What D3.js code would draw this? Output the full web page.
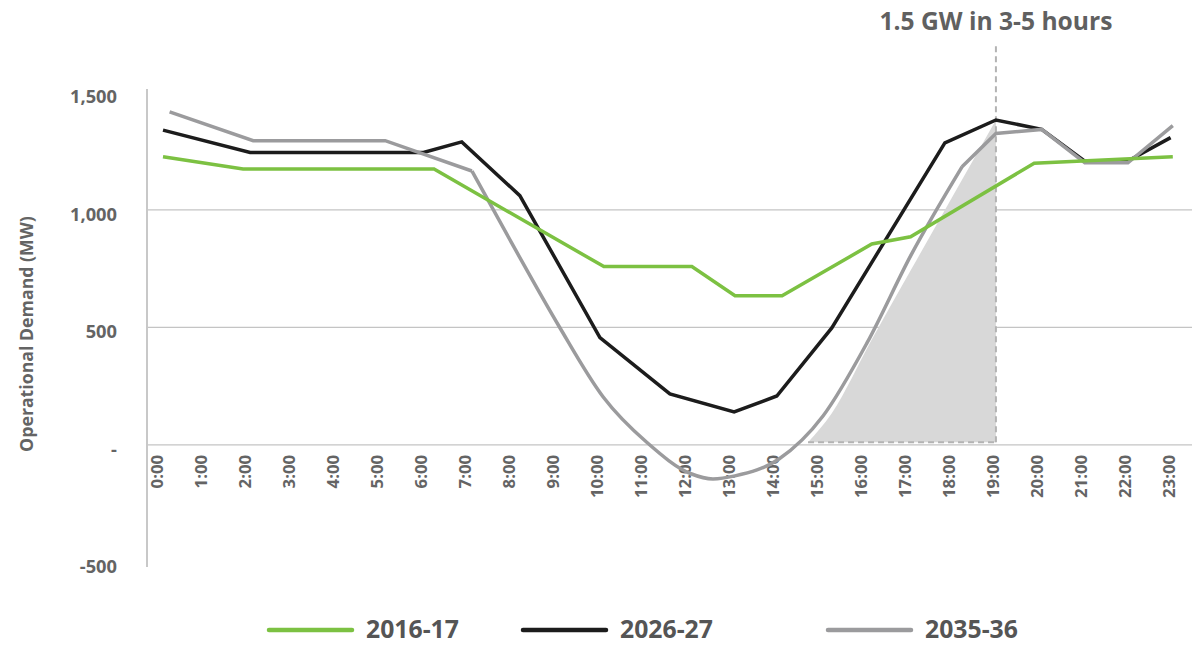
<!DOCTYPE html>
<html>
<head>
<meta charset="utf-8">
<script src="https://cdn.jsdelivr.net/npm/d3@7"></script>
<style>
  html, body { margin: 0; padding: 0; background: #ffffff; }
  svg { display: block; }
  text { font-family: "Open Sans", Lato, sans-serif; font-weight: 700; }
</style>
</head>
<body>
<svg id="chart" width="1200" height="646"></svg>
<script>
// ---- data ----
const hourLabels = ["0:00","1:00","2:00","3:00","4:00","5:00","6:00","7:00","8:00","9:00","10:00","11:00",
                    "12:00","13:00","14:00","15:00","16:00","17:00","18:00","19:00","20:00","21:00","22:00","23:00"];
const yTickValues = [1500, 1000, 500, 0, -500];
const yTickLabels = ["1,500", "1,000", "500", "-", "-500"];
const gridValues = [1000, 500, 0];

const seriesNames = ["2016-17", "2026-27", "2035-36"];

const t2016 = [0, 1.82, 6.16, 10.02, 12.02, 13.0, 14.07, 16.11, 16.99, 19.8, 22.95];
const v2016 = [1227, 1174, 1174, 759, 759, 635, 635, 855, 886, 1199, 1227];

const t2026 = [0, 1.98, 5.92, 6.79, 8.11, 9.93, 11.52, 12.98, 13.95, 15.2, 17.77, 18.93, 19.97, 20.95, 21.93, 22.9];
const v2026 = [1340, 1245, 1245, 1290, 1061, 457, 217, 140, 208, 498, 1286, 1383, 1343, 1208, 1208, 1308];

// 2035-36: straight head, smooth trough (7:00 - 18:00), straight tail
const t2035 = [0.15, 2.05, 5.05, 7.02, 8, 9, 10, 11, 12, 12.5, 13, 14, 15, 16, 17, 18.16, 18.93, 19.97, 20.95, 21.93, 22.95];
const v2035 = [1418, 1295, 1295, 1166, 834, 505, 205, 10, -123, -145, -132, -60, 123, 434, 808, 1184, 1326, 1343, 1201, 1201, 1359];
const smoothFrom = 7.02, smoothTo = 18.16;

// shaded ramp (1.5 GW in 3-5 hours)
const rampT = [14.66, 15.2, 16.1, 17.0, 18.93];
const rampV = [0, 135, 445, 745, 1383];
const annotationHour = 18.93;
const annotationText = "1.5 GW in 3-5 hours";
const yTitle = "Operational Demand (MW)";

// ---- helpers ----
function fitWidth(sel, target) {
  sel.each(function () {
    const fs = parseFloat(this.getAttribute("font-size"));
    const w = this.getComputedTextLength();
    if (w > 0) this.setAttribute("font-size", (fs * target / w).toFixed(2));
  });
}

// ---- scales ----
const svg = d3.select("#chart");
const x = d3.scaleLinear().domain([0, 23]).range([163, 1175]);
const y = d3.scaleLinear().domain([-520, 1515]).range([567, 89]);
const plotLeft = 147, plotRight = 1192;

const colors = { "2016-17": "#7cc142", "2026-27": "#1c1c1c", "2035-36": "#9b9b9d" };
const labelColor = "#646464";

// gridlines
svg.append("g").selectAll("line").data(gridValues).join("line")
  .attr("x1", plotLeft).attr("x2", plotRight)
  .attr("y1", d => y(d)).attr("y2", d => y(d))
  .attr("stroke", "#c4c4c4").attr("stroke-width", 1.3);

// y axis line
svg.append("line")
  .attr("x1", plotLeft).attr("x2", plotLeft)
  .attr("y1", y.range()[1]).attr("y2", y.range()[0])
  .attr("stroke", "#c8c8c8").attr("stroke-width", 2);

// y tick labels
const yLab = svg.append("g").selectAll("text").data(yTickValues).join("text")
  .attr("x", 117).attr("y", d => y(d) + 6)
  .attr("text-anchor", "end").attr("dominant-baseline", "middle")
  .attr("font-size", 18).attr("fill", labelColor)
  .text((d, i) => yTickLabels[i]);
fitWidth(yLab.filter((d, i) => i === 0), 47);
yLab.attr("font-size", yLab.filter((d, i) => i === 0).attr("font-size"));

// y title
const yT = svg.append("text")
  .attr("transform", "translate(33,334) rotate(-90)")
  .attr("text-anchor", "middle")
  .attr("font-size", 16).attr("fill", labelColor)
  .text(yTitle);
fitWidth(yT, 236);

// x tick labels
const xLab = svg.append("g").selectAll("text").data(hourLabels).join("text")
  .attr("transform", (d, i) => `translate(${x(i)},455) rotate(-90)`)
  .attr("text-anchor", "end")
  .attr("font-size", 17.5).attr("fill", labelColor)
  .text(d => d);
fitWidth(xLab.filter((d, i) => i === 10), 43);
xLab.attr("font-size", xLab.filter((d, i) => i === 10).attr("font-size"));

// shaded ramp
const zeroY = y(0) - 2.5;
const rampData = rampT.map((t, i) => ({ t, v: rampV[i] }));
svg.append("path").datum(rampData)
  .attr("d", d3.area().x(d => x(d.t)).y0(zeroY).y1(d => Math.min(y(d.v), zeroY)).curve(d3.curveMonotoneX))
  .attr("fill", "#d8d8d8");

// dashed lines
svg.append("line")
  .attr("x1", x(rampT[0])).attr("x2", x(annotationHour))
  .attr("y1", zeroY).attr("y2", zeroY)
  .attr("stroke", "#b3b3b3").attr("stroke-width", 2).attr("stroke-dasharray", "6,4");
svg.append("line")
  .attr("x1", x(annotationHour)).attr("x2", x(annotationHour))
  .attr("y1", zeroY).attr("y2", 44)
  .attr("stroke", "#b3b3b3").attr("stroke-width", 2).attr("stroke-dasharray", "6,4");

// annotation
const ann = svg.append("text")
  .attr("x", x(annotationHour)).attr("y", 30)
  .attr("text-anchor", "middle")
  .attr("font-size", 24).attr("fill", "#606060")
  .text(annotationText);
fitWidth(ann, 233);

// series lines
function pts(ts, vs) { return ts.map((t, i) => ({ t, v: vs[i] })); }
const g2035 = pts(t2035, v2035);
const series = [
  { name: "2026-27", parts: [{ p: pts(t2026, v2026), c: d3.curveLinear }] },
  { name: "2035-36", parts: [
      { p: g2035.filter(d => d.t <= smoothFrom), c: d3.curveLinear },
      { p: g2035.filter(d => d.t >= smoothFrom && d.t <= smoothTo), c: d3.curveMonotoneX },
      { p: g2035.filter(d => d.t >= smoothTo), c: d3.curveLinear } ] },
  { name: "2016-17", parts: [{ p: pts(t2016, v2016), c: d3.curveLinear }] }
];
series.forEach(s => {
  const path = s.parts.map(part =>
    d3.line().x(d => x(d.t)).y(d => y(d.v)).curve(part.c)(part.p)).join("");
  svg.append("path")
    .attr("d", path)
    .attr("fill", "none")
    .attr("stroke", colors[s.name])
    .attr("stroke-width", 3.5)
    .attr("stroke-linejoin", "miter");
});

// legend
const legendX = [269, 523, 828];
const legend = svg.append("g").selectAll("g").data(seriesNames).join("g")
  .attr("transform", (d, i) => `translate(${legendX[i]},630)`);
legend.append("line")
  .attr("x1", 0).attr("x2", 83).attr("y1", 0).attr("y2", 0)
  .attr("stroke", d => colors[d]).attr("stroke-width", 4.5).attr("stroke-linecap", "round");
const legText = legend.append("text")
  .attr("x", 97).attr("y", 8)
  .attr("font-size", 26).attr("fill", "#555555")
  .text(d => d);
fitWidth(legText.filter((d, i) => i === 0), 93);
legText.attr("font-size", legText.filter((d, i) => i === 0).attr("font-size"));
</script>
</body>
</html>
